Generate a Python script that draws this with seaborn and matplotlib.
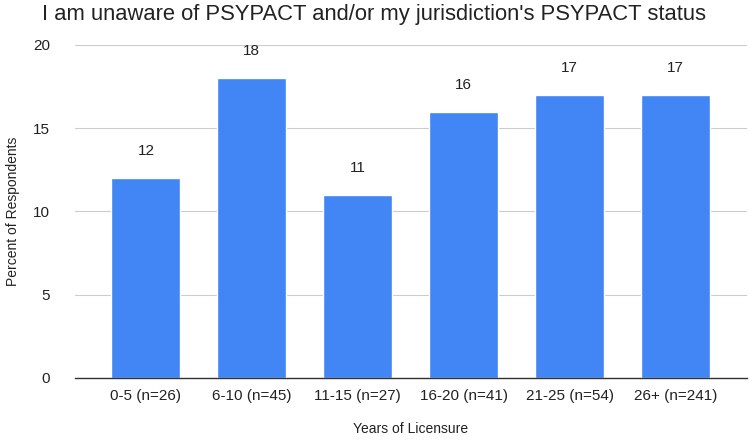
import matplotlib
matplotlib.use("Agg")
import matplotlib.pyplot as plt
import seaborn as sns
import pandas as pd

categories = ["0-5 (n=26)", "6-10 (n=45)", "11-15 (n=27)", "16-20 (n=41)", "21-25 (n=54)", "26+ (n=241)"]
values = [12, 18, 11, 16, 17, 17]
yticks = [0, 5, 10, 15, 20]

sns.set_theme(style="white")
plt.rcParams['font.family'] = ['Liberation Sans', 'DejaVu Sans']

df = pd.DataFrame({"cat": categories, "val": values})
fig = plt.figure(figsize=(7.49, 4.41), dpi=100)
ax = fig.add_axes([0.100, 0.143, 0.897, 0.755])
sns.barplot(data=df, x="cat", y="val", color="#4285F4", saturation=1, width=0.65, ax=ax, zorder=3)
ax.set_xlim(-0.67, 5.67)
ax.set_ylim(0, 20)
ax.set_yticks(yticks)
ax.set_yticklabels([str(t) for t in yticks])
ax.grid(axis="y", color="#cccccc", linewidth=0.8, zorder=0)
for s in ["top", "right", "left"]:
    ax.spines[s].set_visible(False)
ax.spines["bottom"].set_color("#333333")
ax.spines["bottom"].set_linewidth(1.0)
ax.spines["bottom"].set_zorder(4)
ax.tick_params(axis="x", length=0, labelsize=11, colors="#222222", pad=8)
ax.tick_params(axis="y", length=0, labelsize=11, colors="#222222", pad=18)
for i, v in enumerate(values):
    ax.text(i, v + 1.2, str(v), ha="center", va="bottom", fontsize=11, color="#222222")
ax.set_xlabel("Years of Licensure", fontsize=10, color="#222222", labelpad=14)
ax.set_ylabel("Percent of Respondents", fontsize=10, color="#222222", labelpad=9)
fig.text(0.5, 0.99, "I am unaware of PSYPACT and/or my jurisdiction's PSYPACT status",
         ha="center", va="top", fontsize=15.8, color="#222222")
fig.savefig("out.png", dpi=100)
